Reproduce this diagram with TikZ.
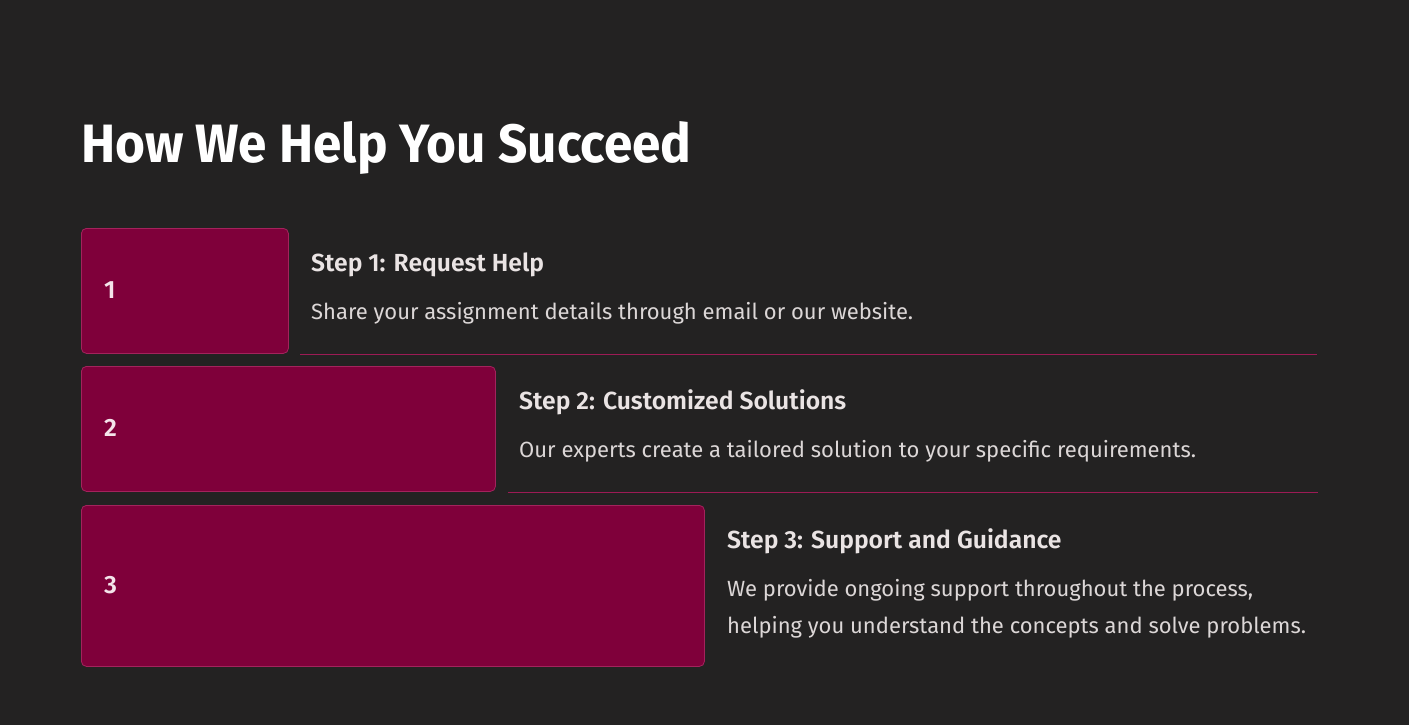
\documentclass[tikz,border=0pt]{standalone}
\usepackage{fontspec}
\setmainfont{Fira Sans}
\newfontfamily\titlefont[FakeStretch=0.95]{Fira Sans}
\newfontfamily\headfont[BoldFont={Fira Sans SemiBold}]{Fira Sans}
\newfontfamily\bodyfont{Fira Sans}
\definecolor{bg}{HTML}{232222}
\definecolor{boxfill}{HTML}{7F003A}
\definecolor{boxedge}{HTML}{A3235C}
\definecolor{rule}{HTML}{9C1B55}
\definecolor{headc}{HTML}{EAE4E4}
\definecolor{bodyc}{HTML}{DCD7D7}
\definecolor{numc}{HTML}{F4E4EA}
\tikzset{
  stepbox/.style={draw=boxedge, line width=0.8pt, fill=boxfill, rounded corners=5pt, anchor=north west, inner sep=0pt},
  numtext/.style={anchor=base west, inner sep=0pt, text=numc, font=\headfont\bfseries\fontsize{25}{30}\selectfont},
  headtext/.style={anchor=base west, inner sep=0pt, text=headc, font=\headfont\bfseries\fontsize{24.7}{29}\selectfont},
  bodytext/.style={anchor=base west, inner sep=0pt, text=bodyc, font=\bodyfont\fontsize{22}{37}\selectfont, align=left},
  ruleline/.style={draw=rule, line width=1pt}
}
\begin{document}
\begin{tikzpicture}[x=1pt,y=-1pt]
\fill[bg] (0,0) rectangle (1409,725);
\useasboundingbox (0,0) rectangle (1409,725);
\node[anchor=base west, inner sep=0pt, text=white, font=\titlefont\bfseries\fontsize{54}{60}\selectfont] (title) at (81,162) {How We Help You Succeed};
% step 1
\node[stepbox, minimum width=207pt, minimum height=125pt] (b1) at (81,228) {};
\node[numtext] (n1) at (104,298) {1};
\node[headtext] (h1) at (311,271) {Step 1: Request Help};
\node[bodytext] (t1) at (311,319) {Share your assignment details through email or our website.};
\coordinate (r1s) at (300,354);
\coordinate (r1e) at (1317,354);
\draw[ruleline] (r1s) -- (r1e);
% step 2
\node[stepbox, minimum width=414pt, minimum height=125pt] (b2) at (81,366) {};
\node[numtext] (n2) at (104,436) {2};
\node[headtext] (h2) at (519,409) {Step 2: Customized Solutions};
\node[bodytext] (t2) at (519,457) {Our experts create a tailored solution to your specific requirements.};
\coordinate (r2s) at (508,492);
\coordinate (r2e) at (1318,492);
\draw[ruleline] (r2s) -- (r2e);
% step 3
\node[stepbox, minimum width=623pt, minimum height=161pt] (b3) at (81,505) {};
\node[numtext] (n3) at (104,593) {3};
\node[headtext] (h3) at (727,548) {Step 3: Support and Guidance};
\node[bodytext] (t3) at (727,633) {We provide ongoing support throughout the process,\\helping you understand the concepts and solve problems.};
\end{tikzpicture}
\end{document}
